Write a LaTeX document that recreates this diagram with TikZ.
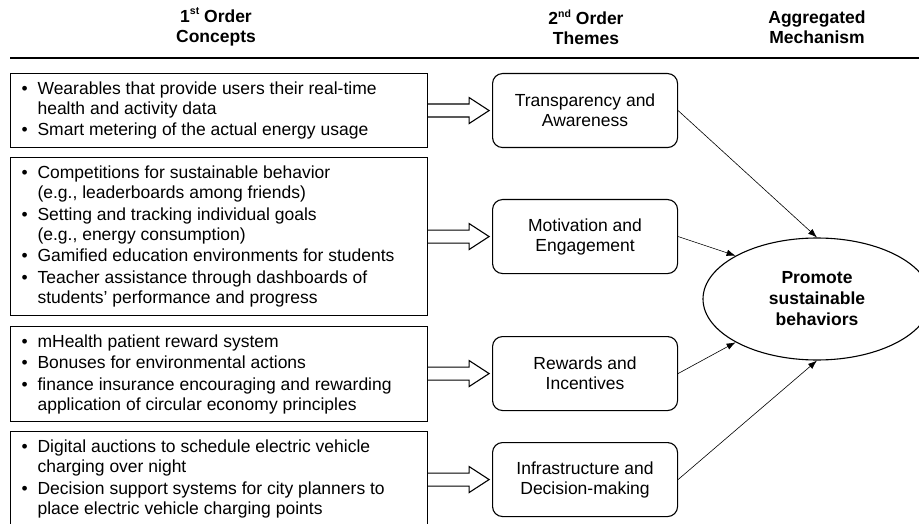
\documentclass[tikz,border=0pt]{standalone}
\usepackage{fontspec}
\setmainfont{Liberation Sans}
\usetikzlibrary{arrows.meta,shapes.geometric,calc}
\newcommand\bul[1]{\par\hangindent=16pt\hangafter=1\noindent\makebox[16pt][l]{\textbullet}#1}
\newcommand\supx[1]{\raisebox{0.42em}{\fontsize{10.5}{10}\selectfont #1}}
\newenvironment{blist}{\begin{minipage}{395pt}\raggedright\setlength\parskip{1.5pt}}{\end{minipage}}
\begin{document}
\begin{tikzpicture}[x=1pt,y=-1pt,
  every node/.style={font=\fontsize{17.5}{20}\selectfont},
  hdr/.style={font=\bfseries\fontsize{17.5}{20}\selectfont, align=center, inner sep=0pt},
  concept/.style={draw, line width=1.1pt, minimum width=417pt, inner xsep=11pt, inner ysep=0pt, anchor=north west},
  theme/.style={draw, rounded corners=10pt, line width=1.1pt, minimum width=185pt, minimum height=74pt, align=center, inner sep=0pt, anchor=north west},
  hollow/.style={draw, line width=1.1pt, line join=miter},
  thinarrow/.style={draw, line width=0.6pt, -{Latex[length=9pt,width=6.5pt]}}]
\useasboundingbox (0,0) rectangle (919,524);

% headers
\node[hdr] (h1) at (216,27) {1\supx{st} Order\\Concepts};
\node[hdr] (h2) at (586,27) {2\supx{nd} Order\\Themes};
\node[hdr] (h3) at (817,27) {Aggregated\\Mechanism};
\draw[line width=1.2pt] (10,58) -- (919,58);

% first order concepts
\node[concept, minimum height=74pt] (c1) at (10,73) {\begin{blist}
\bul{Wearables that provide users their real-time\newline health and activity data}
\bul{Smart metering of the actual energy usage}
\end{blist}};
\node[concept, minimum height=158pt] (c2) at (10,157) {\begin{blist}
\bul{Competitions for sustainable behavior\newline (e.g., leaderboards among friends)}
\bul{Setting and tracking individual goals\newline (e.g., energy consumption)}
\bul{Gamified education environments for students}
\bul{Teacher assistance through dashboards of\newline students’ performance and progress}
\end{blist}};
\node[concept, minimum height=95pt] (c3) at (10,326) {\begin{blist}
\bul{mHealth patient reward system}
\bul{Bonuses for environmental actions}
\bul{finance insurance encouraging and rewarding\newline application of circular economy principles}
\end{blist}};
\node[concept, minimum height=95pt] (c4) at (10,431) {\begin{blist}
\bul{Digital auctions to schedule electric vehicle\newline charging over night}
\bul{Decision support systems for city planners to\newline place electric vehicle charging points}
\end{blist}};

% second order themes
\node[theme] (t1) at (492,73) {Transparency and\\Awareness};
\node[theme] (t2) at (492,199) {Motivation and\\Engagement};
\node[theme] (t3) at (492,336) {Rewards and\\Incentives};
\node[theme] (t4) at (492,442) {Infrastructure and\\Decision-making};

% aggregated mechanism
\node[draw, ellipse, line width=1.1pt, minimum width=228pt, minimum height=122pt, inner sep=0pt, align=center, font=\bfseries\fontsize{17.5}{21}\selectfont] (E) at (817,299) {Promote\\sustainable\\behaviors};

% hollow arrows
\foreach \c/\t in {c1/t1,c2/t2,c3/t3,c4/t4}
  \draw[hollow] (\c.east |- \t.west) ++(0,-6.5) -- ++(41,0) -- ++(0,-6.5) -- ++(20,13) -- ++(-20,13) -- ++(0,-6.5) -- ++(-41,0);

% thin arrows
\draw[thinarrow] (t1.east) -- (E.north);
\draw[thinarrow] (t2.east) -- (E.152);
\draw[thinarrow] (t3.east) -- (E.208);
\draw[thinarrow] (t4.east) -- (E.south);
\end{tikzpicture}
\end{document}
